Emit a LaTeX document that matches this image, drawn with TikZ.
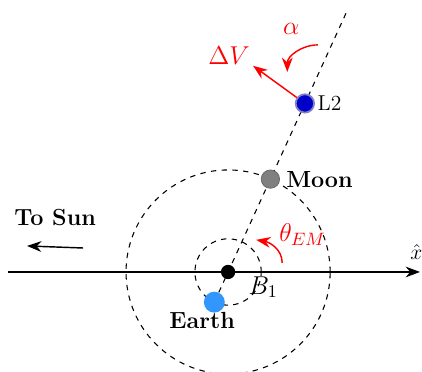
\documentclass[tikz,border=0pt]{standalone}
\usepackage{xcolor}
\usepackage{tikz}
\usetikzlibrary{arrows.meta,positioning}

\definecolor{earthblue}{RGB}{50,150,255}
\definecolor{ltwoblue}{RGB}{0,0,200}

\begin{document}
\begin{tikzpicture}[body/.style={circle,inner sep=0pt,minimum size=#1},
  orbit/.style={dashed,semithick},
  bodylabel/.style={font=\fontsize{13}{15}\selectfont\bfseries},
  anglelabel/.style={red,font=\Large}]
  \useasboundingbox (-4.47,-1.96) rectangle (3.80,5.33);
  % positions along the Earth-Moon line
  \coordinate (bary) at (0,0);
  \coordinate (earthpos) at (245.5:0.65);
  \coordinate (moonpos) at (65.5:2);
  \coordinate (ltwopos) at (65.5:3.63);
  \coordinate (lineend) at (65.5:5.59);
  \coordinate (xmin) at (-4.31,0);
  \coordinate (xmax) at (3.76,0);
  \draw[orbit] (bary) circle (2);
  \draw[orbit] (bary) circle (0.65);
  \draw[orbit] (earthpos) -- (lineend);
  \draw[thick,-{Stealth[length=8pt]}] (xmin) -- (xmax)
    node[above left=3pt and -5pt,font=\large] {$\hat{x}$};
  \node[body=0.28cm,fill=black] (b1) at (bary) {};
  \node[below right=-4pt and 5pt of b1,font=\Large] {$B_1$};
  \node[body=0.41cm,fill=earthblue] (earth) at (earthpos) {};
  \node[below=-4pt of earth,xshift=-0.24cm,bodylabel] {Earth};
  \node[body=0.36cm,fill=gray,draw=gray!80!black] (moon) at (moonpos) {};
  \node[right=0pt of moon,bodylabel] {Moon};
  \node[body=0.36cm,fill=ltwoblue,draw=blue!40!gray!70,line width=1pt] (ltwo) at (ltwopos) {};
  \node[right=-2pt of ltwo,font=\large] {L2};
  % Sun direction
  \node[bodylabel] (sun) at (-3.39,1.06) {To Sun};
  \coordinate (suna) at (-2.84,0.47);
  \coordinate (sunb) at (-3.94,0.51);
  \draw[thick,-{Stealth[length=8pt]}] (suna) -- (sunb);
  % angles and burn
  \coordinate (dvtip) at (0.49,4.04);
  \draw[red,thick,-{Stealth[length=8pt]}] (ltwo) -- (dvtip);
  \node[anglelabel] at (0.02,4.24) {$\Delta V$};
  \coordinate (alphaa) at (1.76,4.45);
  \coordinate (alphab) at (1.16,3.92);
  \draw[red,thick,-{Stealth[length=8pt]}] (alphaa) to[out=180,in=90] (alphab);
  \node[anglelabel] at (1.24,4.77) {$\alpha$};
  \coordinate (thetaa) at (1.06,0.18);
  \coordinate (thetab) at (0.55,0.63);
  \draw[red,thick,-{Stealth[length=8pt]}] (thetaa) to[out=90,in=-10] (thetab);
  \node[anglelabel] at (1.46,0.74) {$\theta_{EM}$};
\end{tikzpicture}
\end{document}
